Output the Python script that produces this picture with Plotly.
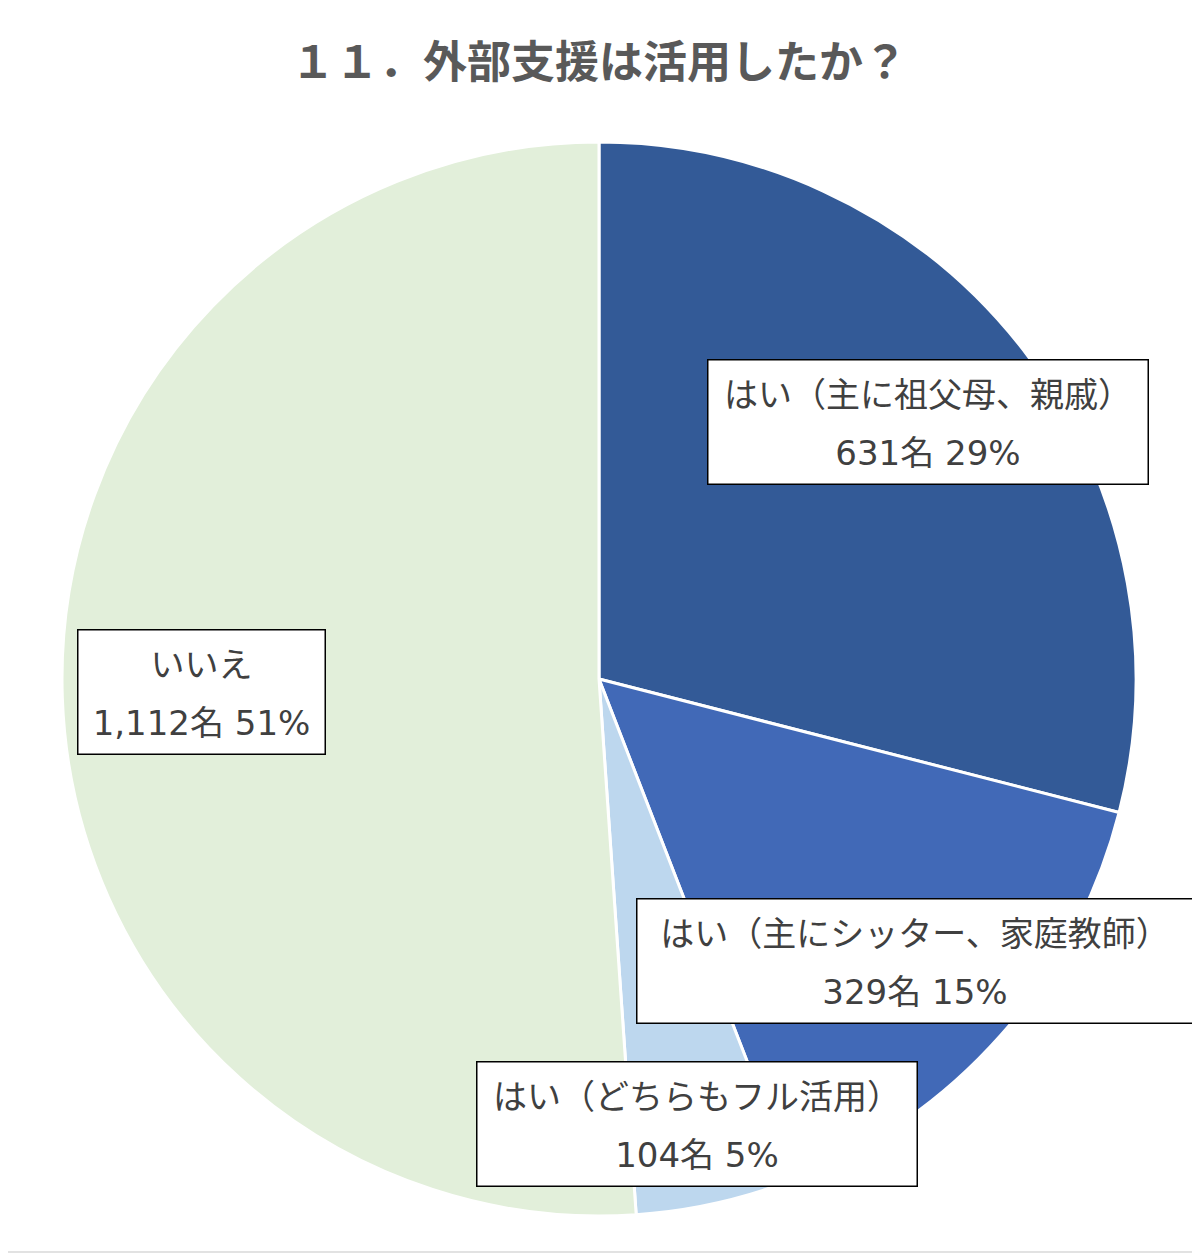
import plotly.graph_objects as go

# データ
labels = ["はい（主に祖父母、親戚）", "はい（主にシッター、家庭教師）", "はい（どちらもフル活用）", "いいえ"]
counts = [631, 329, 104, 1112]
count_text = ["631名", "329名", "104名", "1,112名"]
colors = ["#335A97", "#4169B7", "#BDD7EE", "#E2EFDA"]

total = sum(counts)
W, H = 1200, 1260
OFF = 8  # ページ余白の補正


def px(x):
    return (x - OFF) / W


def py(y):
    return 1 - (y - OFF) / H


fig = go.Figure()

fig.add_trace(go.Pie(
    labels=labels,
    values=counts,
    sort=False,
    direction="clockwise",
    rotation=0,
    marker=dict(colors=colors, line=dict(color="white", width=3)),
    textinfo="none",
    hoverinfo="label+value+percent",
    showlegend=False,
    domain=dict(x=[px(62), px(1136)], y=[py(1216), py(142)]),
))

# ラベルボックス (中心x, 中心y, 幅, 高さ) ピクセル
boxes = [
    (927.5, 422.5, 439, 123),
    (914.5, 961, 555, 123),
    (696.5, 1124, 439, 123),
    (202, 692, 246, 123),
]

for lab, ct, v, (bx, by, bw, bh) in zip(labels, count_text, counts, boxes):
    pct = round(v / total * 100)
    txt = (f"<span style='font-size:34px'>{lab}</span><br>"
           f"<span style='font-size:34px;font-family:DejaVu Sans, Noto Sans CJK JP'>{ct} {pct}%</span>")
    fig.add_annotation(
        x=px(bx), y=py(by), xref="paper", yref="paper",
        xanchor="center", yanchor="middle",
        text=txt, showarrow=False,
        font=dict(family="Open Sans, Noto Sans CJK JP", size=44, color="#404040"),
        align="center", valign="middle",
        width=bw, height=bh,
        bgcolor="white", bordercolor="#000000", borderwidth=1.5, borderpad=0,
    )

# 外枠
fig.add_shape(type="rect", xref="paper", yref="paper",
              x0=px(2), x1=px(1196), y0=py(1252), y1=py(2),
              line=dict(color="#d9d9d9", width=1.5), layer="below")

fig.update_layout(
    width=W, height=H,
    margin=dict(l=0, r=0, t=0, b=0),
    paper_bgcolor="white",
    title=dict(text="<b>１１．外部支援は活用したか？</b>",
               x=px(599), xanchor="center", y=py(63), yanchor="middle",
               font=dict(family="Noto Sans CJK JP", size=44, color="#595959")),
)

fig.write_html("out.html")
